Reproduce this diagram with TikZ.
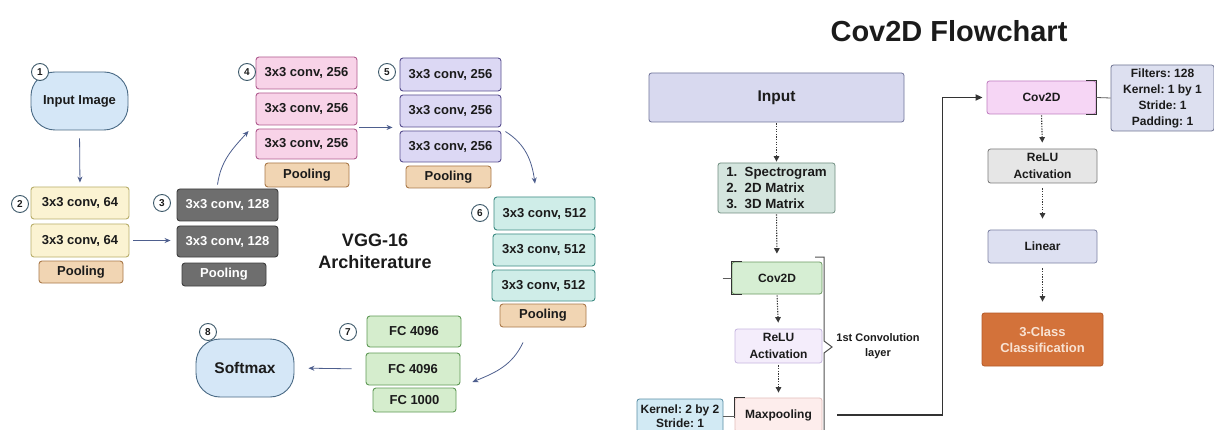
\documentclass[tikz,border=0pt]{standalone}
\usepackage{fontspec}
\setmainfont{Liberation Sans}
\usetikzlibrary{arrows.meta,calc}
\frenchspacing

\newcommand\fsz[2]{\fontsize{#1}{#2}\selectfont}

% palette
\definecolor{ink}{HTML}{1B1B1B}
\definecolor{yelF}{HTML}{FBF3D2}\definecolor{yelD}{HTML}{B8AE6A}
\definecolor{tanF}{HTML}{F1D5B3}\definecolor{tanD}{HTML}{A9794A}
\definecolor{gryF}{HTML}{6E6E6E}\definecolor{gryD}{HTML}{3E3E3E}
\definecolor{pnkF}{HTML}{F8D3E8}\definecolor{pnkD}{HTML}{B05B8F}
\definecolor{prpF}{HTML}{DCD8F4}\definecolor{prpD}{HTML}{574E8E}
\definecolor{tealF}{HTML}{CFEDE8}\definecolor{tealD}{HTML}{3C8A82}
\definecolor{grnF}{HTML}{D5EDCD}\definecolor{grnD}{HTML}{5F9955}
\definecolor{bluF}{HTML}{D5E7F7}\definecolor{bluD}{HTML}{4A6A85}
\definecolor{circD}{HTML}{3E5A6B}
\definecolor{arrC}{HTML}{4E5F8E}
\definecolor{inpF}{HTML}{D8D9EF}\definecolor{inpD}{HTML}{6F7399}
\definecolor{lstF}{HTML}{D4E5DE}\definecolor{lstD}{HTML}{6F8D80}
\definecolor{cvaF}{HTML}{D6EED3}\definecolor{cvaD}{HTML}{6D9A62}
\definecolor{rlaF}{HTML}{F4EDFB}\definecolor{rlaD}{HTML}{C7B7E0}
\definecolor{mxpF}{HTML}{FDEDEC}\definecolor{mxpD}{HTML}{E3BDBA}
\definecolor{krnF}{HTML}{D2EAF4}\definecolor{krnD}{HTML}{5A8EA5}
\definecolor{cvbF}{HTML}{F6D6F5}\definecolor{cvbD}{HTML}{C07DC0}
\definecolor{fltF}{HTML}{DDE0F0}\definecolor{fltD}{HTML}{6E7391}
\definecolor{rlbF}{HTML}{E6E6E6}\definecolor{rlbD}{HTML}{7B7B7B}
\definecolor{linF}{HTML}{DDE0F1}\definecolor{linD}{HTML}{7D82A3}
\definecolor{clsF}{HTML}{D3723A}\definecolor{clsD}{HTML}{B45A28}
\definecolor{clsT}{HTML}{F8E2D2}
\definecolor{dotC}{HTML}{383838}
\definecolor{brkC}{HTML}{333333}

\tikzset{
  base/.style={rounded corners=3pt, line width=0.9pt, text=ink, inner sep=0pt,
    anchor=center, align=center, font=\bfseries\fsz{13}{15}},
  layer/.style 2 args={base, fill=#1, draw=#2},
  wh/.style 2 args={minimum width=#1pt, minimum height=#2pt},
  pool/.style={layer={tanF}{tanD}},
  blob/.style 2 args={base, rounded corners=24pt, fill=#1, draw=#2},
  num/.style={circle, draw=circD, fill=white, line width=0.9pt, minimum size=17pt,
    inner sep=0pt, text=ink, font=\bfseries\fsz{10}{12}},
  flow/.style 2 args={base, rounded corners=2.5pt, line width=0.8pt, fill=#1, draw=#2,
    font=\bfseries\fsz{12}{15}},
  arr/.style={draw=arrC, line width=0.8pt, -{Stealth[length=6pt,width=5pt]}},
  dotarr/.style={draw=dotC, line width=1.1pt, dash pattern=on 1.3pt off 1.3pt,
    -{Triangle[length=5.5pt,width=5.5pt]}},
  brk/.style={draw=brkC, line width=1.3pt},
  thinlink/.style={draw=brkC!80, line width=0.8pt},
  looplink/.style={draw=brkC, line width=1.6pt, -{Triangle[length=7pt,width=6pt]}},
}

\begin{document}
\begin{tikzpicture}[x=1pt,y=-1pt]
\useasboundingbox[fill=white] (0,0) rectangle (1214,430);

% ---------------- VGG-16 ----------------
\node[blob={bluF}{bluD}, wh={97}{58}] (inimg) at (79.5,101) {Input Image};
\node[num] (n1) at (40,72) {1};

\node[layer={yelF}{yelD}, wh={98}{32}] (c64a) at (80,203) {3x3 conv, 64};
\node[layer={yelF}{yelD}, wh={98}{33}] (c64b) at (80,240.5) {3x3 conv, 64};
\node[pool, wh={84}{22}] (pool1) at (81,272) {Pooling};
\node[num] (n2) at (20,204) {2};

\node[layer={gryF}{gryD}, wh={101}{32}, text=white] (c128a) at (227.5,205) {3x3 conv, 128};
\node[layer={gryF}{gryD}, wh={101}{31}, text=white] (c128b) at (227.5,241.5) {3x3 conv, 128};
\node[layer={gryF}{gryD}, wh={84}{23}, text=white] (pool2) at (224,274.5) {Pooling};
\node[num] (n3) at (162,203) {3};

\node[layer={pnkF}{pnkD}, wh={101}{32}] (c256a) at (306.5,73) {3x3 conv, 256};
\node[layer={pnkF}{pnkD}, wh={101}{32}] (c256b) at (306.5,109) {3x3 conv, 256};
\node[layer={pnkF}{pnkD}, wh={101}{30}] (c256c) at (306.5,144) {3x3 conv, 256};
\node[pool, wh={84}{24}] (pool3) at (307,175) {Pooling};
\node[num] (n4) at (247,72) {4};

\node[layer={prpF}{prpD}, wh={101}{33}] (p256a) at (450.5,74.5) {3x3 conv, 256};
\node[layer={prpF}{prpD}, wh={101}{32}] (p256b) at (450.5,111) {3x3 conv, 256};
\node[layer={prpF}{prpD}, wh={101}{31}] (p256c) at (450.5,146.5) {3x3 conv, 256};
\node[pool, wh={85}{22}] (pool4) at (448.5,177) {Pooling};
\node[num] (n5) at (387,72) {5};

\node[layer={tealF}{tealD}, wh={101}{33}] (c512a) at (544.5,213.5) {3x3 conv, 512};
\node[layer={tealF}{tealD}, wh={102}{32}] (c512b) at (544,250) {3x3 conv, 512};
\node[layer={tealF}{tealD}, wh={103}{31}] (c512c) at (543.5,285.5) {3x3 conv, 512};
\node[pool, wh={86}{23}] (pool5) at (543,315.5) {Pooling};
\node[num] (n6) at (480,213) {6};

\node[layer={grnF}{grnD}, wh={94}{31}] (fc1) at (414,331.5) {FC 4096};
\node[layer={grnF}{grnD}, wh={94}{32}] (fc2) at (413,369) {FC 4096};
\node[layer={grnF}{grnD}, wh={83}{24}] (fc3) at (414.5,400) {FC 1000};
\node[num] (n7) at (348,332) {7};

\node[blob={bluF}{bluD}, wh={98}{58}, font=\bfseries\fsz{15.5}{18}] (soft) at (245,368) {Softmax};
\node[num] (n8) at (208,332) {8};

\node[text=ink, align=center, font=\bfseries\fsz{18}{22}] (vggtitle) at (375,251) {VGG-16\\Architerature};

% VGG connectors
\draw[arr, shorten <=8pt, shorten >=4pt] (inimg.south) -- (c64a.north);
\draw[arr, shorten <=4pt, shorten >=6pt] (c64b.east) -- (c64b.east -| c128b.west);
\draw[arr] ([xshift=-10pt,yshift=4pt]c128a.north) to[out=82,in=228] ([xshift=-7pt,yshift=13pt]c256c.west);
\draw[arr] ([xshift=2pt,yshift=-2pt]c256b.south east) -- ([xshift=-7pt]p256b.south west);
\draw[arr] ([xshift=4pt,yshift=-1pt]p256c.north east) to[out=-32,in=98] ([xshift=-9.5pt,yshift=13pt]c512a.north);
\draw[arr] ([xshift=-20pt,yshift=-15pt]pool5.south) to[out=-115,in=22] ([xshift=12pt,yshift=-13pt]fc2.east);
\draw[arr, shorten <=14pt, shorten >=14pt] (fc2.west) -- (soft.east);

% ---------------- Cov2D flowchart ----------------
\node[text=ink, font=\bfseries\fsz{29}{34}] (cvtitle) at (949,31) {Cov2D Flowchart};

\node[flow={inpF}{inpD}, wh={255}{49}, font=\bfseries\fsz{15.5}{18}] (inp) at (776.5,97.5) {Input};
\node[flow={lstF}{lstD}, wh={117}{50}, align=left, font=\bfseries\fsz{13.3}{16}] (lst) at (776.5,188)
  {1.~~Spectrogram\\2.~~2D Matrix\\3.~~3D Matrix};
\node[flow={cvaF}{cvaD}, wh={90}{32}] (cv1) at (777,278) {Cov2D};
\node[flow={rlaF}{rlaD}, wh={87}{34}, font=\bfseries\fsz{12}{17}] (relu1) at (778.5,346) {ReLU\\Activation};
\node[flow={mxpF}{mxpD}, wh={87}{34}] (maxp) at (778.5,415) {Maxpooling};
\node[flow={krnF}{krnD}, wh={86}{34}, font=\bfseries\fsz{12}{14}] (kern) at (680,416) {Kernel: 2 by 2\\Stride: 1};

\node[flow={cvbF}{cvbD}, wh={109}{33}] (cv2) at (1041.5,97.5) {Cov2D};
\node[flow={fltF}{fltD}, wh={103}{66}, font=\bfseries\fsz{12}{16}] (filt) at (1162.5,98)
  {Filters: 128\\Kernel: 1 by 1\\Stride: 1\\Padding: 1};
\node[flow={rlbF}{rlbD}, wh={109}{34}, font=\bfseries\fsz{12}{17}] (relu2) at (1042.5,166) {ReLU\\Activation};
\node[flow={linF}{linD}, wh={109}{33}] (lin) at (1042.5,246.5) {Linear};
\node[flow={clsF}{clsD}, wh={121}{53}, text=clsT, font=\bfseries\fsz{13}{16}] (cls) at (1042.5,339.5)
  {3-Class\\Classification};

\node[text=ink, align=center, font=\bfseries\fsz{11}{15}] (convlbl) at (878,346) {1st Convolution\\layer};

% dotted flow arrows
\draw[dotarr, shorten <=1pt, shorten >=1pt] (inp.south) -- (lst.north);
\draw[dotarr, shorten <=1pt, shorten >=8pt] (lst.south) -- (cv1.north);
\draw[dotarr, shorten <=1pt, shorten >=6pt] (cv1.south) -- (relu1.north);
\draw[dotarr, shorten <=2pt, shorten >=5pt] (relu1.south) -- (maxp.north);
\draw[dotarr, shorten <=1pt, shorten >=6pt] (cv2.south) -- (relu2.north);
\draw[dotarr, shorten <=5pt, shorten >=11pt] (relu2.south) -- (lin.north);
\draw[dotarr, shorten <=5pt, shorten >=11pt] (lin.south) -- (cls.north);

% side brackets on the layer boxes
\draw[brk] ([xshift=10pt]cv1.north west) -- (cv1.north west) -- (cv1.south west) -- ([xshift=10pt]cv1.south west);
\coordinate (cvstub) at ([xshift=-9pt]cv1.west);
\draw[thinlink] (cvstub) -- (cv1.west);
\draw[brk] ([xshift=10pt]maxp.north west) -- (maxp.north west) -- ([yshift=-20pt]maxp.north west);
\draw[brk] ([xshift=-10pt]cv2.north east) -- (cv2.north east) -- (cv2.south east) -- ([xshift=-10pt]cv2.south east);
\draw[thinlink] (cv2.east) -- (filt.west);
\draw[thinlink] (kern.east) -- (kern.east -| maxp.west);

% brace grouping the first convolution layer
\coordinate (bracetop) at (815,257);
\coordinate (bracetip) at (832,347);
\draw[draw=brkC!85, line width=1pt, line join=miter]
  (bracetop) -- (824,257) -- (824,341) -- (bracetip) -- (824,353) -- (824,440);

% loop back from max pooling to the second Cov2D
\draw[looplink, shorten <=15pt, shorten >=4pt] (maxp.east) -- ++(120,0) |- (cv2.west);

\end{tikzpicture}
\end{document}
